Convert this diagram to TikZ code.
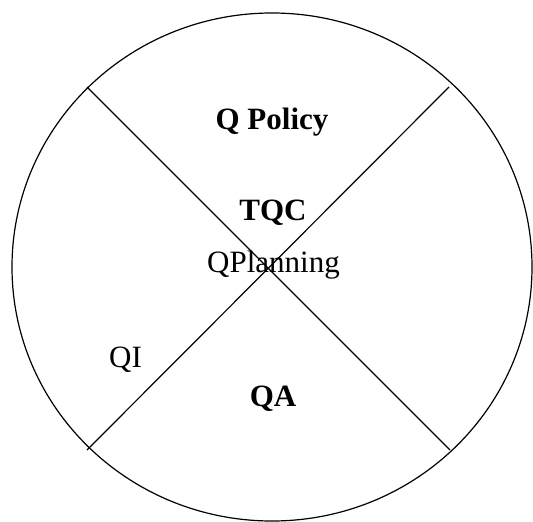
\documentclass[tikz,border=0pt]{standalone}
\usepackage{fontspec}
\setmainfont{Liberation Serif}
\usetikzlibrary{math}

\begin{document}
\begin{tikzpicture}[x=1pt, y=-1pt, line width=1.2pt,
  lbl/.style={anchor=base, inner sep=0pt, font=\fontsize{31}{37}\selectfont},
  blbl/.style={lbl, font=\fontsize{31}{37}\selectfont\bfseries}]
\tikzmath{
\cx=272;
\cy=267;
\rx=260;
\ry=254;
}
\useasboundingbox (0,0) rectangle (533,522);

\draw (\cx,\cy) ellipse [x radius=\rx, y radius=\ry];

\coordinate (tl) at (87,87);
\coordinate (br) at (450,450);
\coordinate (tr) at (449,87);
\coordinate (bl) at (87,450);
\draw (tl) -- (br);
\draw (tr) -- (bl);

\node[blbl] (pol) at (272,129) {Q Policy};
\node[blbl] (tqc) at (273,220) {TQC};
\node[lbl] (plan) at (273.5,272) {QPlanning};
\node[lbl] (qi) at (125.5,367) {QI};
\node[blbl] (qa) at (273,406) {QA};
\end{tikzpicture}
\end{document}
